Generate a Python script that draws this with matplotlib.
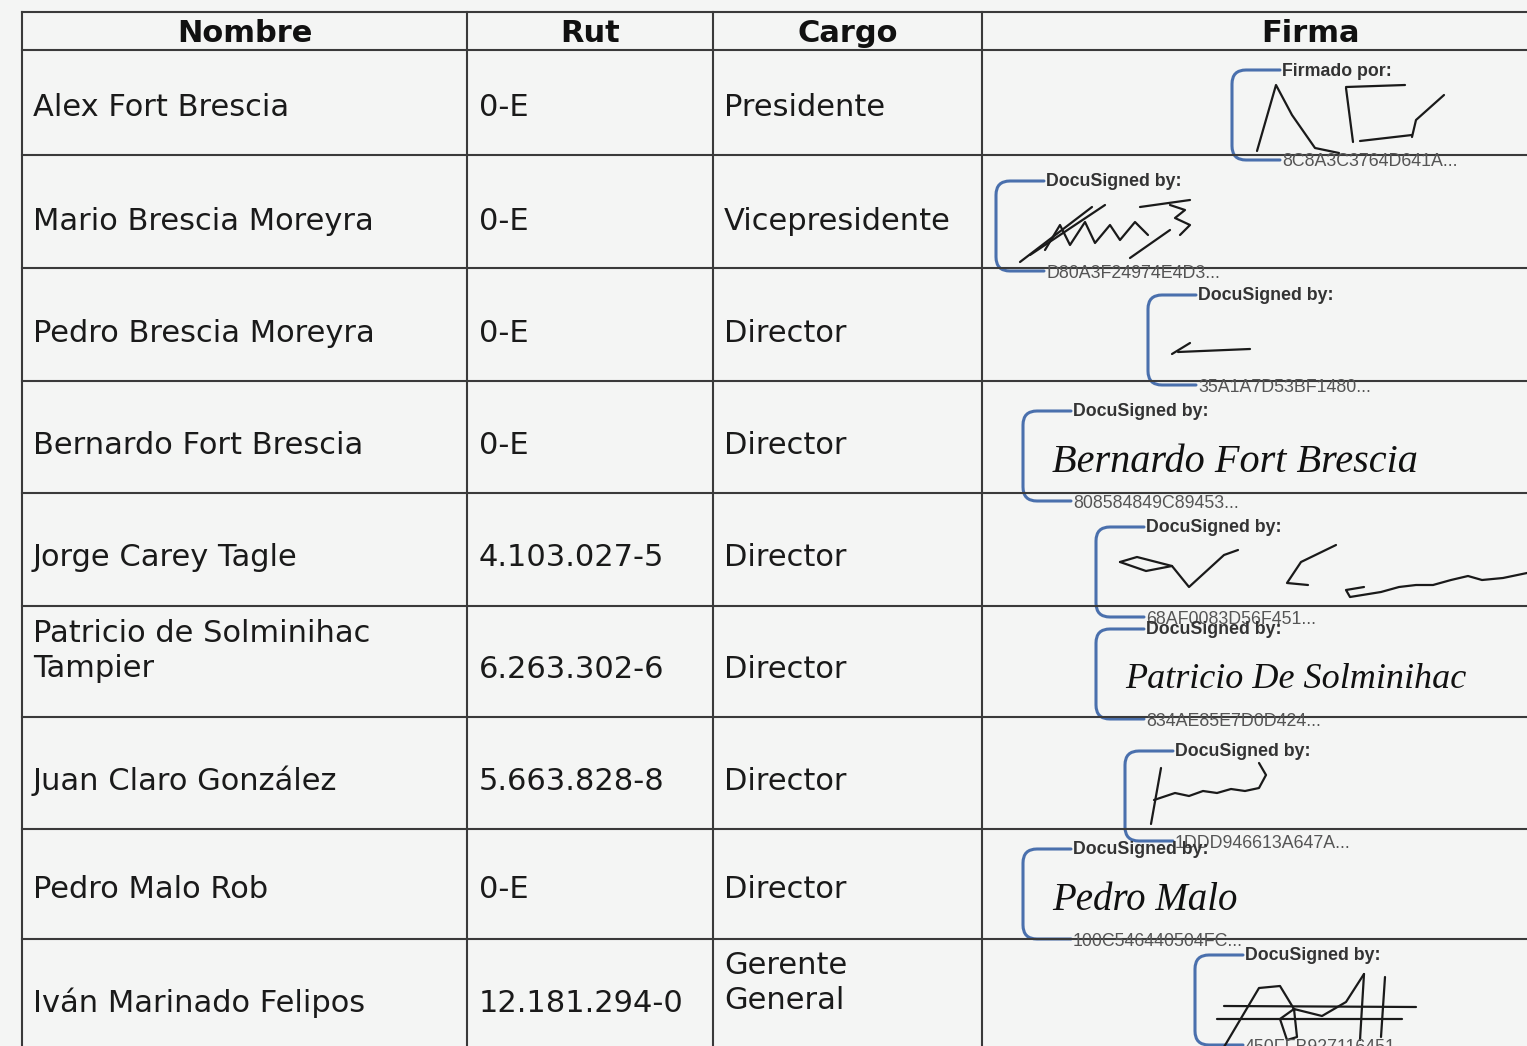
import matplotlib
matplotlib.use("Agg")
import matplotlib.pyplot as plt
from matplotlib.path import Path
from matplotlib.patches import PathPatch

# table content
headers = ["Nombre", "Rut", "Cargo", "Firma"]
nombres = ["Alex Fort Brescia", "Mario Brescia Moreyra", "Pedro Brescia Moreyra",
           "Bernardo Fort Brescia", "Jorge Carey Tagle", "Patricio de Solminihac\nTampier",
           "Juan Claro González", "Pedro Malo Rob", "Iván Marinado Felipos"]
ruts = ["0-E", "0-E", "0-E", "0-E", "4.103.027-5", "6.263.302-6",
        "5.663.828-8", "0-E", "12.181.294-0"]
cargos = ["Presidente", "Vicepresidente", "Director", "Director", "Director",
          "Director", "Director", "Director", "Gerente\nGeneral"]

# signature blocks: label, envelope hash, typed signature (None -> scribble)
sign_labels = ["Firmado por:"] + ["DocuSigned by:"] * 8
sign_hashes = ["8C8A3C3764D641A...", "D80A3F24974E4D3...", "35A1A7D53BF1480...",
               "808584849C89453...", "68AF0083D56F451...", "834AE85E7D0D424...",
               "1DDD946613A647A...", "100C546440504FC...", "450FFB927116451..."]
sign_names = [None, None, None, "Bernardo Fort Brescia", None,
              "Patricio De Solminihac", None, "Pedro Malo", None]

# layout (pixels)
W, H = 1527, 1046
col_x = [22, 467, 713, 982, 1560]
row_y = [12, 50, 155, 268, 381, 493, 606, 717, 829, 939, 1080]
text_y = [107, 220, 333, 445, 557, 650, 780, 889, 1002]
cargo_y = [107, 220, 333, 445, 557, 669, 780, 889, 982]
sign_pos = [(1232, 70), (996, 181), (1148, 295), (1023, 411), (1096, 527),
            (1096, 629), (1125, 751), (1023, 849), (1195, 955)]
sign_size = {3: 29, 5: 26, 7: 28}

# freehand strokes, offsets from bracket corner
scribbles = {
    0: [[(25, 81), (44, 15), (60, 45), (83, 78), (107, 83)],
        [(114, 18), (121, 72)], [(114, 17), (173, 15)],
        [(128, 71), (180, 65)], [(180, 67), (184, 50), (212, 25)]],
    1: [[(24, 81), (96, 26)], [(34, 74), (109, 24)],
        [(49, 69), (64, 44), (74, 64), (89, 41), (99, 62), (114, 44), (124, 59), (139, 41), (152, 54)],
        [(144, 26), (194, 19)], [(174, 24), (189, 29), (179, 37), (194, 44), (184, 54)],
        [(134, 77), (174, 49)]],
    2: [[(24, 59), (42, 48)], [(30, 57), (102, 54)]],
    4: [[(24, 35), (41, 30), (76, 39), (93, 60), (128, 28), (142, 23)],
        [(24, 35), (50, 44), (76, 39)],
        [(240, 18), (205, 35), (191, 56), (212, 58)],
        [(268, 60), (250, 63), (254, 70), (285, 65), (303, 60), (320, 58), (337, 58),
         (355, 53), (372, 49), (386, 53), (407, 51), (431, 46)]],
    6: [[(36, 17), (26, 73)],
        [(29, 49), (50, 42), (64, 45), (78, 40), (92, 42), (106, 38), (120, 40),
         (134, 37), (141, 24), (134, 12)]],
    8: [[(22, 64), (207, 64)], [(29, 51), (221, 52)],
        [(29, 92), (64, 33), (85, 31), (99, 54), (102, 82), (92, 85), (85, 64), (99, 54),
         (127, 61), (151, 47), (169, 19)],
        [(169, 19), (165, 85)], [(190, 22), (186, 82)]],
}

bg = "#f4f5f4"
line_c = "#3a3a3a"
ink = "#1a1a1a"
blue = "#4a70ad"
FS = 22

fig = plt.figure(figsize=(W / 100, H / 100), dpi=100, facecolor=bg)
ax = fig.add_axes([0, 0, 1, 1])
ax.set_xlim(0, W)
ax.set_ylim(H, 0)
ax.axis("off")
ax.set_facecolor(bg)

# grid
for x in col_x:
    ax.plot([x, x], [row_y[0], row_y[-1]], color=line_c, lw=1.5)
for y in row_y:
    ax.plot([col_x[0], col_x[-1]], [y, y], color=line_c, lw=1.5)

# header
head_x = [(col_x[0] + col_x[1]) / 2, (col_x[1] + col_x[2]) / 2,
          (col_x[2] + col_x[3]) / 2, 1310]
for hx, h in zip(head_x, headers):
    ax.text(hx, 34, h, ha="center", va="center", fontsize=FS, fontweight="bold",
            color="#111111")

# body
for r in range(len(nombres)):
    ax.text(col_x[0] + 11, text_y[r] + 1, nombres[r], va="center", fontsize=FS,
            color=ink, linespacing=1.27)
    ax.text(col_x[1] + 12, text_y[r] + 1 if r != 5 else 669, ruts[r], va="center",
            fontsize=FS, color=ink)
    ax.text(col_x[2] + 11, cargo_y[r] + 1, cargos[r], va="center", fontsize=FS,
            color=ink, linespacing=1.27)


def bracket(x0, y0, h=90, arm=48, rad=14):
    verts = [(x0 + arm, y0), (x0 + rad, y0), (x0, y0), (x0, y0 + rad),
             (x0, y0 + h - rad), (x0, y0 + h), (x0 + rad, y0 + h), (x0 + arm, y0 + h)]
    codes = [Path.MOVETO, Path.LINETO, Path.CURVE3, Path.CURVE3,
             Path.LINETO, Path.CURVE3, Path.CURVE3, Path.LINETO]
    ax.add_patch(PathPatch(Path(verts, codes), fill=False, edgecolor=blue, lw=2.2,
                           capstyle="round"))


for k, (bx, by) in enumerate(sign_pos):
    bracket(bx, by)
    ax.text(bx + 50, by + 1, sign_labels[k], va="center", fontsize=12.8,
            fontweight="bold", family="Liberation Sans", color="#333333")
    ax.text(bx + 50, by + 92, sign_hashes[k], va="center", fontsize=12.8,
            family="Liberation Sans", color="#555555")
    if sign_names[k]:
        ax.text(bx + 29, by + 51, sign_names[k], va="center", fontsize=sign_size[k],
                family="Liberation Serif", style="italic", color="#111111")
    for stroke in scribbles.get(k, []):
        xs = [bx + p[0] for p in stroke]
        ys = [by + p[1] for p in stroke]
        ax.plot(xs, ys, color=ink, lw=1.6, solid_joinstyle="round",
                solid_capstyle="round")

plt.savefig("out.png", dpi=100, facecolor=bg)
